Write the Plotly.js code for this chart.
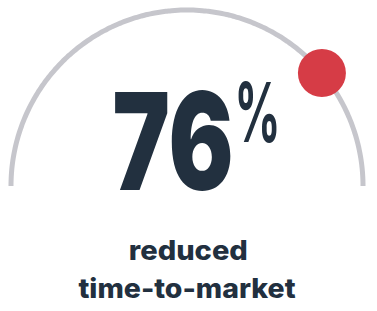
<!DOCTYPE html>
<html>
<head>
<meta charset="utf-8">
<script src="https://cdn.plot.ly/plotly-3.0.1.min.js"></script>
<style>
html,body{margin:0;padding:0;background:#fff;}
#chart{width:377px;height:311px;}
</style>
</head>
<body>
<div id="chart"></div>
<script>
// Data
var valueLabel = 76;            // shown percentage
var markerFraction = 0.778;     // position of the red dot along the arc (0 = left end, 1 = right end)
var captionLines = ["reduced", "time-to-market"];

// Arc geometry (unit circle, upper half)
var arcX = [], arcY = [];
for (var a = 0; a <= 180; a += 1) {
  var t = a * Math.PI / 180;
  arcX.push(Math.cos(t));
  arcY.push(Math.sin(t));
}
var dotAngle = Math.PI * (1 - markerFraction);

var traces = [
  {x: arcX, y: arcY, mode: 'lines', line: {color: '#c6c6cc', width: 5, shape: 'spline'},
   hoverinfo: 'skip', showlegend: false},
  {x: [Math.cos(dotAngle)], y: [Math.sin(dotAngle)], mode: 'markers',
   marker: {color: '#d63c46', size: 48, line: {width: 0}}, hoverinfo: 'skip', showlegend: false}
];

var textColor = '#22303f';
var layout = {
  width: 377, height: 311,
  margin: {l: 0, r: 0, t: 0, b: 0},
  paper_bgcolor: '#ffffff', plot_bgcolor: '#ffffff',
  xaxis: {range: [-1.0625, 1.0795], visible: false, fixedrange: true},
  yaxis: {range: [-0.7102, 1.0568], visible: false, fixedrange: true},
  showlegend: false,
  annotations: [
    {x: -0.0824, y: 0.2557, xref: 'x', yref: 'y', xanchor: 'center', yanchor: 'middle',
     text: String(valueLabel), showarrow: false, width: 122, borderpad: 0,
     font: {family: 'Inter', size: 135, color: textColor, weight: 900}},
    {x: 0.398, y: 0.4176, xref: 'x', yref: 'y', xanchor: 'center', yanchor: 'middle',
     text: '%', showarrow: false, width: 47, borderpad: 0,
     font: {family: 'Inter', size: 82, color: textColor, weight: 700}},
    {x: 0.006, y: -0.3636, xref: 'x', yref: 'y', xanchor: 'center', yanchor: 'middle',
     text: captionLines[0], showarrow: false,
     font: {family: 'Inter', size: 27, color: textColor, weight: 800}},
    {x: 0.0, y: -0.585, xref: 'x', yref: 'y', xanchor: 'center', yanchor: 'middle',
     text: captionLines[1], showarrow: false,
     font: {family: 'Inter', size: 27, color: textColor, weight: 800}}
  ]
};

// target rendered widths (px) of each annotation
var fitWidths = [121, 46, 119, 217];

Plotly.newPlot('chart', traces, layout, {displayModeBar: false, staticPlot: true}).then(function (gd) {
  var texts = gd.querySelectorAll('.annotation-text');
  texts.forEach(function (el, i) {
    if (!fitWidths[i]) return;
    el.setAttribute('textLength', fitWidths[i]);
    el.setAttribute('lengthAdjust', 'spacingAndGlyphs');
  });
});
</script>
</body>
</html>
